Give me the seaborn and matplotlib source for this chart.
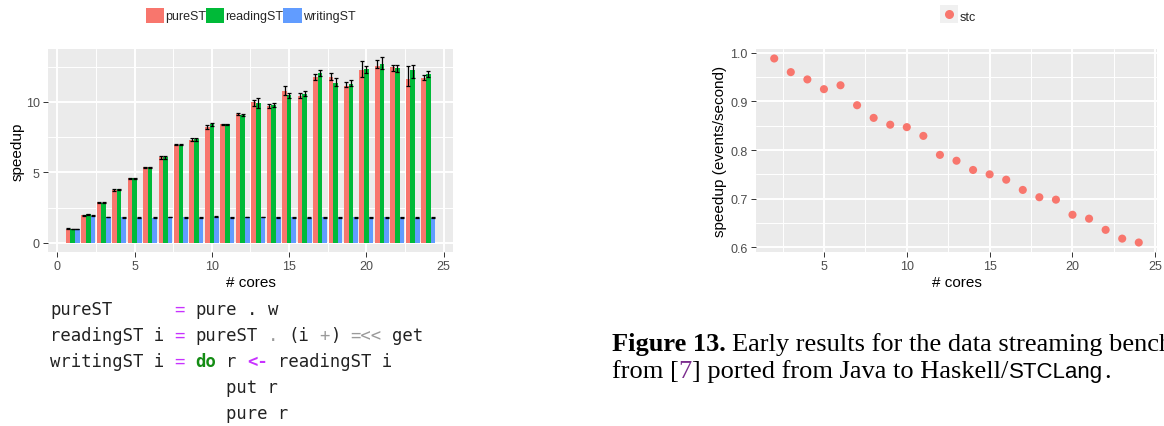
import numpy as np
import pandas as pd
import matplotlib
matplotlib.use("Agg")
import matplotlib.pyplot as plt
import seaborn as sns
from matplotlib.lines import Line2D
from matplotlib.legend_handler import HandlerTuple
from matplotlib.ticker import FormatStrFormatter

# ---- data: left chart (speedup per variant) ----
cores = list(range(1, 25))
variants = ["pureST", "readingST", "writingST"]
pure_st = [1.02, 1.96, 2.88, 3.75, 4.60, 5.35, 6.08, 6.98, 7.31, 8.22, 8.40, 9.13,
           9.98, 9.74, 10.76, 10.45, 11.75, 11.75, 11.15, 12.26, 12.53, 12.45, 11.63, 11.70]
reading_st = [1.00, 2.03, 2.85, 3.80, 4.60, 5.35, 6.06, 6.96, 7.36, 8.40, 8.40, 9.08,
              9.90, 9.80, 10.48, 10.56, 12.03, 11.35, 11.30, 12.33, 12.69, 12.40, 12.26, 11.98]
writing_st = [1.00, 1.93, 1.84, 1.82, 1.79, 1.80, 1.84, 1.81, 1.79, 1.86, 1.81, 1.83,
              1.84, 1.82, 1.81, 1.79, 1.82, 1.82, 1.82, 1.82, 1.82, 1.81, 1.79, 1.80]

pure_err_lo = [0.03, 0.03, 0.03, 0.05, 0.04, 0.07, 0.10, 0.05, 0.10, 0.12, 0.03, 0.06,
               0.24, 0.17, 0.30, 0.19, 0.19, 0.19, 0.12, 0.47, 0.10, 0.28, 0.47, 0.14]
pure_err_hi = [0.03, 0.03, 0.03, 0.05, 0.04, 0.07, 0.10, 0.05, 0.10, 0.12, 0.03, 0.06,
               0.17, 0.12, 0.35, 0.17, 0.24, 0.30, 0.26, 0.61, 0.45, 0.14, 0.94, 0.19]
reading_err_lo = [0.02, 0.03, 0.02, 0.06, 0.03, 0.07, 0.12, 0.05, 0.10, 0.10, 0.03, 0.05,
                  0.33, 0.19, 0.19, 0.17, 0.21, 0.24, 0.19, 0.31, 0.35, 0.31, 0.57, 0.19]
reading_err_hi = [0.02, 0.03, 0.02, 0.06, 0.03, 0.07, 0.12, 0.05, 0.10, 0.10, 0.03, 0.05,
                  0.35, 0.10, 0.17, 0.19, 0.24, 0.33, 0.28, 0.19, 0.47, 0.24, 0.33, 0.24]
writing_err = [0.02] * 24

# ---- data: right chart ----
stc_cores = list(range(2, 25))
stc_speedup = [0.988, 0.960, 0.945, 0.925, 0.933, 0.892, 0.866, 0.852, 0.847, 0.829,
               0.790, 0.778, 0.759, 0.750, 0.739, 0.718, 0.703, 0.698, 0.667, 0.659,
               0.636, 0.618, 0.610]

colors = ["#F8766D", "#00BA38", "#619CFF"]
tick_col = "#4D4D4D"

sns.set_theme(style="darkgrid", rc={
    "axes.facecolor": "#EBEBEB",
    "grid.color": "white",
    "axes.edgecolor": "none",
})
plt.rcParams["font.family"] = ["Liberation Sans", "DejaVu Sans"]

W, H = 1164, 427
fig = plt.figure(figsize=(W / 100, H / 100), dpi=100)
fig.patch.set_facecolor("white")


def px_axes(l, t, r, b):
    return fig.add_axes([l / W, 1 - b / H, (r - l) / W, (b - t) / H])


def style_axes(ax):
    for s in ax.spines.values():
        s.set_visible(False)
    ax.set_axisbelow(True)
    ax.grid(which="major", color="white", linewidth=1.4)
    ax.grid(which="minor", color="white", linewidth=0.7)
    ax.tick_params(which="major", length=3.5, width=0.7, color="#333333",
                   labelsize=9, labelcolor=tick_col, pad=2.5, bottom=True, left=True)
    ax.tick_params(which="minor", length=0)


# ---- left chart ----
ax1 = px_axes(48, 50, 453, 253)
df = pd.DataFrame({
    "cores": cores * 3,
    "speedup": pure_st + reading_st + writing_st,
    "variant": np.repeat(variants, len(cores)),
})
sns.barplot(data=df, x="cores", y="speedup", hue="variant", hue_order=variants,
            palette=colors, native_scale=True, width=0.9, errorbar=None,
            saturation=1, linewidth=0, ax=ax1)

errs = [(pure_err_lo, pure_err_hi), (reading_err_lo, reading_err_hi),
        (writing_err, writing_err)]
conts = sorted(ax1.containers, key=lambda c: c[0].get_x())
for cont, (lo, hi) in zip(conts, errs):
    xs = [b.get_x() + b.get_width() / 2 for b in cont]
    ys = [b.get_height() for b in cont]
    ax1.errorbar(xs, ys, yerr=[lo, hi], fmt="none", ecolor="black",
                 elinewidth=0.9, capsize=1.4, capthick=0.9, zorder=3)

ax1.set_xlim(-0.6, 25.6)
ax1.set_ylim(-0.64, 13.75)
ax1.set_xticks([0, 5, 10, 15, 20, 25])
ax1.set_xticks([2.5, 7.5, 12.5, 17.5, 22.5], minor=True)
ax1.set_yticks([0, 5, 10])
ax1.set_yticks([2.5, 7.5, 12.5], minor=True)
ax1.set_xticklabels(["0", "5", "10", "15", "20", "25"])
ax1.set_yticklabels(["0", "5", "10"])
style_axes(ax1)
ax1.set_xlabel("# cores", fontsize=11, color="black")
ax1.set_ylabel("speedup", fontsize=11, color="black")
ax1.xaxis.set_label_coords(0.5, -0.115)
ax1.yaxis.set_label_coords(-0.058, 0.5)
sns.move_legend(ax1, "center", bbox_to_anchor=(0.5, 1.167), ncol=3, title=None,
                frameon=False, handlelength=1.45, handleheight=1.45,
                columnspacing=0.0, handletextpad=0.1, fontsize=9)

# ---- right chart ----
ax2 = px_axes(756, 50, 1157, 253)
df2 = pd.DataFrame({"cores": stc_cores, "speedup": stc_speedup, "series": "stc"})
sns.scatterplot(data=df2, x="cores", y="speedup", hue="series", palette=[colors[0]],
                s=34, linewidth=0, legend=False, ax=ax2)
ax2.set_xlim(0.9, 25.1)
ax2.set_ylim(0.5905, 1.0075)
ax2.set_xticks([5, 10, 15, 20, 25])
ax2.set_xticks([2.5, 7.5, 12.5, 17.5, 22.5], minor=True)
ax2.set_yticks([0.6, 0.7, 0.8, 0.9, 1.0])
ax2.set_yticks([0.65, 0.75, 0.85, 0.95], minor=True)
ax2.yaxis.set_major_formatter(FormatStrFormatter("%.1f"))
style_axes(ax2)
ax2.set_xlabel("# cores", fontsize=11, color="black")
ax2.set_ylabel("speedup (events/second)", fontsize=11, color="black")
ax2.xaxis.set_label_coords(0.5, -0.115)
ax2.yaxis.set_label_coords(-0.072, 0.5)
key = (Line2D([], [], marker="s", ls="", color="#F0F0F0", markersize=12.5, markeredgewidth=0),
       Line2D([], [], marker="o", ls="", color=colors[0], markersize=6.5, markeredgewidth=0))
ax2.legend(handles=[key], labels=["stc"], handler_map={tuple: HandlerTuple(ndivide=1)},
           loc="center", bbox_to_anchor=(0.504, 1.163), frameon=False,
           handlelength=1.4, handleheight=1.4, handletextpad=0.15, fontsize=9)

# ---- code listing ----
mono_size = 12.4
col_w = mono_size * 0.602 * 100 / 72 / W
base = "#222222"
mag = "#C832FF"
grn = "#148C14"
gry = "#9A9A9A"
code_lines = [
    [(0, "pureST", base, "normal"), (12, "=", mag, "normal"), (14, "pure", base, "normal"),
     (19, ".", base, "normal"), (21, "w", base, "normal")],
    [(0, "readingST i", base, "normal"), (12, "=", mag, "normal"), (14, "pureST", base, "normal"),
     (21, ".", gry, "normal"), (23, "(i", base, "normal"), (26, "+", gry, "normal"),
     (27, ")", base, "normal"), (29, "=<<", gry, "normal"), (33, "get", base, "normal")],
    [(0, "writingST i", base, "normal"), (12, "=", mag, "normal"), (14, "do", grn, "bold"),
     (17, "r", base, "normal"), (19, "<-", mag, "bold"), (22, "readingST i", base, "normal")],
    [(17, "put r", base, "normal")],
    [(17, "pure r", base, "normal")],
]
code_base = [315, 341, 367, 393, 419]
for segs, yb in zip(code_lines, code_base):
    for col, txt, c, wgt in segs:
        fig.text(50 / W + col * col_w, 1 - yb / H, txt, color=c, fontweight=wgt,
                 family="DejaVu Sans Mono", fontsize=mono_size, va="baseline", ha="left")

# ---- caption ----
cap_size = 19
renderer = fig.canvas.get_renderer()
caption = [
    (351, [("Figure 13.", "black", "bold", "Liberation Serif", cap_size, 0),
           ("Early results for the data streaming benchmark", "black", "normal",
            "Liberation Serif", cap_size, 6)]),
    (378, [("from [", "black", "normal", "Liberation Serif", cap_size, 0),
           ("7", "#7B2D8E", "normal", "Liberation Serif", cap_size, 0),
           ("] ported from Java to Haskell/", "black", "normal", "Liberation Serif", cap_size, 0),
           ("STCLang", "black", "normal", "Liberation Sans", 16, 1),
           (".", "black", "normal", "Liberation Serif", cap_size, 1)]),
]
for yb, segs in caption:
    x = 612.0
    for txt, c, wgt, fam, fs, gap in segs:
        x += gap
        t = fig.text(x / W, 1 - yb / H, txt, color=c, fontweight=wgt, family=fam,
                     fontsize=fs, va="baseline", ha="left")
        x = t.get_window_extent(renderer=renderer).x1

fig.savefig("out.png", dpi=100)
